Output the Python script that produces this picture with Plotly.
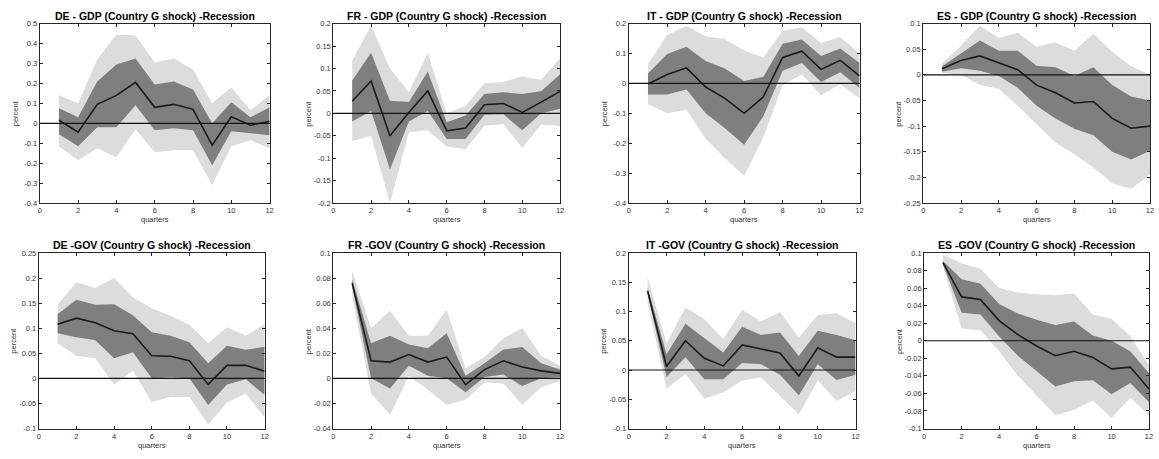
import plotly.graph_objects as go

W, H = 1159, 459

quarters = list(range(1, 13))
x_ticks = [0, 2, 4, 6, 8, 10, 12]

titles = [
    "DE - GDP (Country G shock) -Recession",
    "FR - GDP (Country G shock) -Recession",
    "IT - GDP (Country G shock) -Recession",
    "ES - GDP (Country G shock) -Recession",
    "DE -GOV (Country G shock) -Recession",
    "FR -GOV (Country G shock) -Recession",
    "IT -GOV (Country G shock) -Recession",
    "ES -GOV (Country G shock) -Recession",
]

# ---- DE GDP ----
de_gdp_med = [0.015, -0.045, 0.095, 0.14, 0.205, 0.08, 0.095, 0.07, -0.11, 0.033, -0.01, 0.01]
de_gdp_hi68 = [0.075, 0.03, 0.21, 0.295, 0.325, 0.195, 0.21, 0.17, 0.0, 0.105, 0.03, 0.08]
de_gdp_lo68 = [-0.055, -0.115, -0.02, -0.02, 0.09, -0.035, -0.025, -0.035, -0.21, -0.04, -0.05, -0.06]
de_gdp_hi90 = [0.14, 0.1, 0.32, 0.445, 0.44, 0.305, 0.325, 0.27, 0.1, 0.18, 0.065, 0.14]
de_gdp_lo90 = [-0.115, -0.185, -0.125, -0.17, -0.03, -0.145, -0.135, -0.135, -0.31, -0.115, -0.085, -0.125]

# ---- FR GDP ----
fr_gdp_med = [0.027, 0.072, -0.05, 0.002, 0.05, -0.039, -0.033, 0.019, 0.022, 0.002, 0.025, 0.049]
fr_gdp_hi68 = [0.073, 0.135, 0.028, 0.025, 0.093, -0.02, -0.005, 0.043, 0.047, 0.043, 0.049, 0.087]
fr_gdp_lo68 = [-0.018, 0.005, -0.125, -0.018, 0.005, -0.057, -0.057, -0.003, -0.002, -0.038, 0.0, 0.01]
fr_gdp_hi90 = [0.117, 0.195, 0.1, 0.047, 0.135, 0.0, 0.017, 0.067, 0.07, 0.082, 0.074, 0.124]
fr_gdp_lo90 = [-0.062, -0.05, -0.2, -0.042, -0.038, -0.074, -0.08, -0.028, -0.024, -0.077, -0.025, -0.028]

# ---- IT GDP ----
it_gdp_med = [-0.002, 0.03, 0.052, -0.012, -0.05, -0.1, -0.045, 0.087, 0.108, 0.047, 0.077, 0.025]
it_gdp_hi68 = [0.033, 0.098, 0.123, 0.075, 0.05, 0.008, 0.022, 0.133, 0.147, 0.092, 0.117, 0.068]
it_gdp_lo68 = [-0.037, -0.037, -0.02, -0.1, -0.15, -0.205, -0.11, 0.042, 0.068, 0.005, 0.037, -0.015]
it_gdp_hi90 = [0.065, 0.162, 0.192, 0.158, 0.148, 0.11, 0.087, 0.175, 0.187, 0.135, 0.155, 0.1]
it_gdp_lo90 = [-0.07, -0.1, -0.088, -0.185, -0.25, -0.31, -0.18, -0.005, 0.03, -0.04, -0.003, -0.05]

# ---- ES GDP ----
es_gdp_med = [0.012, 0.028, 0.037, 0.023, 0.01, -0.02, -0.035, -0.055, -0.052, -0.085, -0.104, -0.1]
es_gdp_hi68 = [0.017, 0.042, 0.067, 0.047, 0.047, 0.018, 0.015, -0.002, 0.015, -0.02, -0.042, -0.05]
es_gdp_lo68 = [0.006, 0.013, 0.008, -0.002, -0.025, -0.06, -0.085, -0.105, -0.118, -0.15, -0.165, -0.148]
es_gdp_hi90 = [0.022, 0.057, 0.096, 0.072, 0.082, 0.055, 0.063, 0.047, 0.08, 0.045, 0.017, 0.0]
es_gdp_lo90 = [0.003, 0.0, -0.02, -0.027, -0.06, -0.095, -0.132, -0.155, -0.18, -0.212, -0.222, -0.195]

# ---- DE GOV ----
de_gov_med = [0.108, 0.12, 0.111, 0.095, 0.089, 0.045, 0.044, 0.035, -0.012, 0.026, 0.026, 0.014]
de_gov_hi68 = [0.128, 0.157, 0.147, 0.148, 0.126, 0.092, 0.085, 0.072, 0.03, 0.065, 0.057, 0.063]
de_gov_lo68 = [0.09, 0.082, 0.076, 0.04, 0.052, 0.0, 0.002, 0.0, -0.053, -0.012, -0.002, -0.033]
de_gov_hi90 = [0.147, 0.192, 0.18, 0.2, 0.162, 0.14, 0.125, 0.107, 0.07, 0.102, 0.085, 0.108]
de_gov_lo90 = [0.07, 0.045, 0.04, -0.012, 0.015, -0.047, -0.037, -0.037, -0.092, -0.048, -0.03, -0.078]

# ---- FR GOV ----
fr_gov_med = [0.076, 0.014, 0.013, 0.019, 0.013, 0.017, -0.005, 0.007, 0.014, 0.009, 0.006, 0.004]
fr_gov_hi68 = [0.079, 0.028, 0.034, 0.027, 0.024, 0.036, 0.002, 0.012, 0.023, 0.025, 0.012, 0.007]
fr_gov_lo68 = [0.073, 0.0, -0.008, 0.01, 0.002, 0.0, -0.011, 0.001, 0.003, -0.006, 0.0, 0.001]
fr_gov_hi90 = [0.086, 0.04, 0.054, 0.034, 0.034, 0.055, 0.008, 0.017, 0.032, 0.04, 0.018, 0.01]
fr_gov_lo90 = [0.066, -0.012, -0.029, 0.002, -0.009, -0.021, -0.017, -0.003, -0.004, -0.021, -0.007, -0.002]

# ---- IT GOV ----
it_gov_med = [0.135, 0.006, 0.05, 0.02, 0.007, 0.043, 0.036, 0.029, -0.01, 0.038, 0.022, 0.022]
it_gov_hi68 = [0.14, 0.027, 0.079, 0.054, 0.03, 0.074, 0.06, 0.064, 0.024, 0.067, 0.06, 0.051]
it_gov_lo68 = [0.13, -0.012, 0.022, -0.016, -0.016, 0.012, 0.01, -0.008, -0.043, 0.01, -0.017, -0.008]
it_gov_hi90 = [0.158, 0.045, 0.107, 0.087, 0.053, 0.103, 0.083, 0.099, 0.055, 0.094, 0.097, 0.08]
it_gov_lo90 = [0.115, -0.032, -0.007, -0.049, -0.038, -0.018, -0.013, -0.045, -0.076, -0.018, -0.053, -0.036]

# ---- ES GOV ----
es_gov_med = [0.089, 0.05, 0.047, 0.023, 0.007, -0.006, -0.017, -0.012, -0.019, -0.032, -0.03, -0.055]
es_gov_hi68 = [0.091, 0.07, 0.065, 0.042, 0.031, 0.024, 0.018, 0.022, 0.006, 0.0, -0.012, -0.037]
es_gov_lo68 = [0.087, 0.032, 0.03, 0.005, -0.017, -0.035, -0.052, -0.046, -0.045, -0.061, -0.048, -0.07]
es_gov_hi90 = [0.098, 0.088, 0.082, 0.06, 0.055, 0.053, 0.052, 0.054, 0.03, 0.025, 0.005, -0.028]
es_gov_lo90 = [0.085, 0.014, 0.012, -0.012, -0.04, -0.062, -0.085, -0.079, -0.068, -0.088, -0.065, -0.085]

# y tick values per panel
de_gdp_yticks = [-0.4, -0.3, -0.2, -0.1, 0, 0.1, 0.2, 0.3, 0.4, 0.5]
fr_gdp_yticks = [-0.2, -0.15, -0.1, -0.05, 0, 0.05, 0.1, 0.15, 0.2]
it_gdp_yticks = [-0.4, -0.3, -0.2, -0.1, 0, 0.1, 0.2]
es_gdp_yticks = [-0.25, -0.2, -0.15, -0.1, -0.05, 0, 0.05, 0.1]
de_gov_yticks = [-0.1, -0.05, 0, 0.05, 0.1, 0.15, 0.2, 0.25]
fr_gov_yticks = [-0.04, -0.02, 0, 0.02, 0.04, 0.06, 0.08, 0.1]
it_gov_yticks = [-0.1, -0.05, 0, 0.05, 0.1, 0.15, 0.2]
es_gov_yticks = [-0.1, -0.08, -0.06, -0.04, -0.02, 0, 0.02, 0.04, 0.06, 0.08, 0.1]

panels = [
    (de_gdp_med, de_gdp_hi68, de_gdp_lo68, de_gdp_hi90, de_gdp_lo90, de_gdp_yticks),
    (fr_gdp_med, fr_gdp_hi68, fr_gdp_lo68, fr_gdp_hi90, fr_gdp_lo90, fr_gdp_yticks),
    (it_gdp_med, it_gdp_hi68, it_gdp_lo68, it_gdp_hi90, it_gdp_lo90, it_gdp_yticks),
    (es_gdp_med, es_gdp_hi68, es_gdp_lo68, es_gdp_hi90, es_gdp_lo90, es_gdp_yticks),
    (de_gov_med, de_gov_hi68, de_gov_lo68, de_gov_hi90, de_gov_lo90, de_gov_yticks),
    (fr_gov_med, fr_gov_hi68, fr_gov_lo68, fr_gov_hi90, fr_gov_lo90, fr_gov_yticks),
    (it_gov_med, it_gov_hi68, it_gov_lo68, it_gov_hi90, it_gov_lo90, it_gov_yticks),
    (es_gov_med, es_gov_hi68, es_gov_lo68, es_gov_hi90, es_gov_lo90, es_gov_yticks),
]

# pixel boxes (left, right, top, bottom) of each axes
boxes = [
    (38, 269, 20, 203), (333, 561, 20, 203), (630, 862, 20, 203), (926, 1154, 20, 203),
    (37, 264, 254, 433), (333, 561, 254, 433), (630, 858, 254, 433), (927, 1153, 254, 433),
]

LIGHT = "#dcdcdc"
DARK = "#7f7f7f"
AXC = "#262626"
TXT = "#333333"
FONT = "Liberation Sans, Arial, sans-serif"

fig = go.Figure()
annotations = []
shapes = []


def fmt(v):
    return "%g" % v


for i, (med, hi68, lo68, hi90, lo90, yt) in enumerate(panels):
    k = "" if i == 0 else str(i + 1)
    xa, ya = "x" + k, "y" + k
    # 90% band
    fig.add_trace(go.Scatter(x=quarters, y=hi90, mode="lines", line=dict(width=0, color=LIGHT),
                             xaxis=xa, yaxis=ya, showlegend=False, hoverinfo="skip"))
    fig.add_trace(go.Scatter(x=quarters, y=lo90, mode="lines", line=dict(width=0, color=LIGHT),
                             fill="tonexty", fillcolor=LIGHT,
                             xaxis=xa, yaxis=ya, showlegend=False, hoverinfo="skip"))
    # 68% band
    fig.add_trace(go.Scatter(x=quarters, y=hi68, mode="lines", line=dict(width=0, color=DARK),
                             xaxis=xa, yaxis=ya, showlegend=False, hoverinfo="skip"))
    fig.add_trace(go.Scatter(x=quarters, y=lo68, mode="lines", line=dict(width=0, color=DARK),
                             fill="tonexty", fillcolor=DARK,
                             xaxis=xa, yaxis=ya, showlegend=False, hoverinfo="skip"))
    # median
    fig.add_trace(go.Scatter(x=quarters, y=med, mode="lines", line=dict(width=1.6, color="#1a1a1a"),
                             xaxis=xa, yaxis=ya, showlegend=False))

    l, r, t, b = boxes[i]
    xdom = [l / W, r / W]
    ydom = [(H - b) / H, (H - t) / H]
    axis_common = dict(showgrid=False, zeroline=False, showline=True, linecolor=AXC, linewidth=1,
                       mirror="ticks", ticks="inside", ticklen=3, tickcolor=AXC, tickwidth=1,
                       tickfont=dict(family=FONT, size=7.5, color=TXT))
    fig.layout["xaxis" + k] = dict(domain=xdom, range=[0, 12], anchor=ya,
                                   tickvals=x_ticks, ticktext=[fmt(v) for v in x_ticks],
                                   **axis_common)
    fig.layout["yaxis" + k] = dict(domain=ydom, range=[yt[0], yt[-1]], anchor=xa,
                                   tickvals=yt, ticktext=[fmt(v) for v in yt],
                                   **axis_common)
    # zero reference line
    shapes.append(dict(type="line", xref=xa, yref=ya, x0=0, x1=12, y0=0, y1=0,
                       line=dict(color="#111111", width=1.2), layer="above"))
    # title
    annotations.append(dict(text="<b>" + titles[i] + "</b>", xref="paper", yref="paper",
                            x=(l + r) / 2 / W, y=(H - (t - 8)) / H, xanchor="center", yanchor="middle",
                            showarrow=False, font=dict(family=FONT, size=10.5, color="#000000")))
    # x label
    annotations.append(dict(text="quarters", xref="paper", yref="paper",
                            x=(l + r) / 2 / W, y=(H - (b + 17)) / H, xanchor="center", yanchor="middle",
                            showarrow=False, font=dict(family=FONT, size=7.5, color=TXT)))
    # y label
    annotations.append(dict(text="percent", xref="paper", yref="paper", textangle=-90,
                            x=(l - 25) / W, y=(H - (t + b) / 2) / H, xanchor="center", yanchor="middle",
                            showarrow=False, font=dict(family=FONT, size=7.5, color=TXT)))

fig.update_layout(width=W, height=H, margin=dict(l=0, r=0, t=0, b=0),
                  paper_bgcolor="white", plot_bgcolor="white",
                  annotations=annotations, shapes=shapes, showlegend=False)

fig.write_html("out.html")
